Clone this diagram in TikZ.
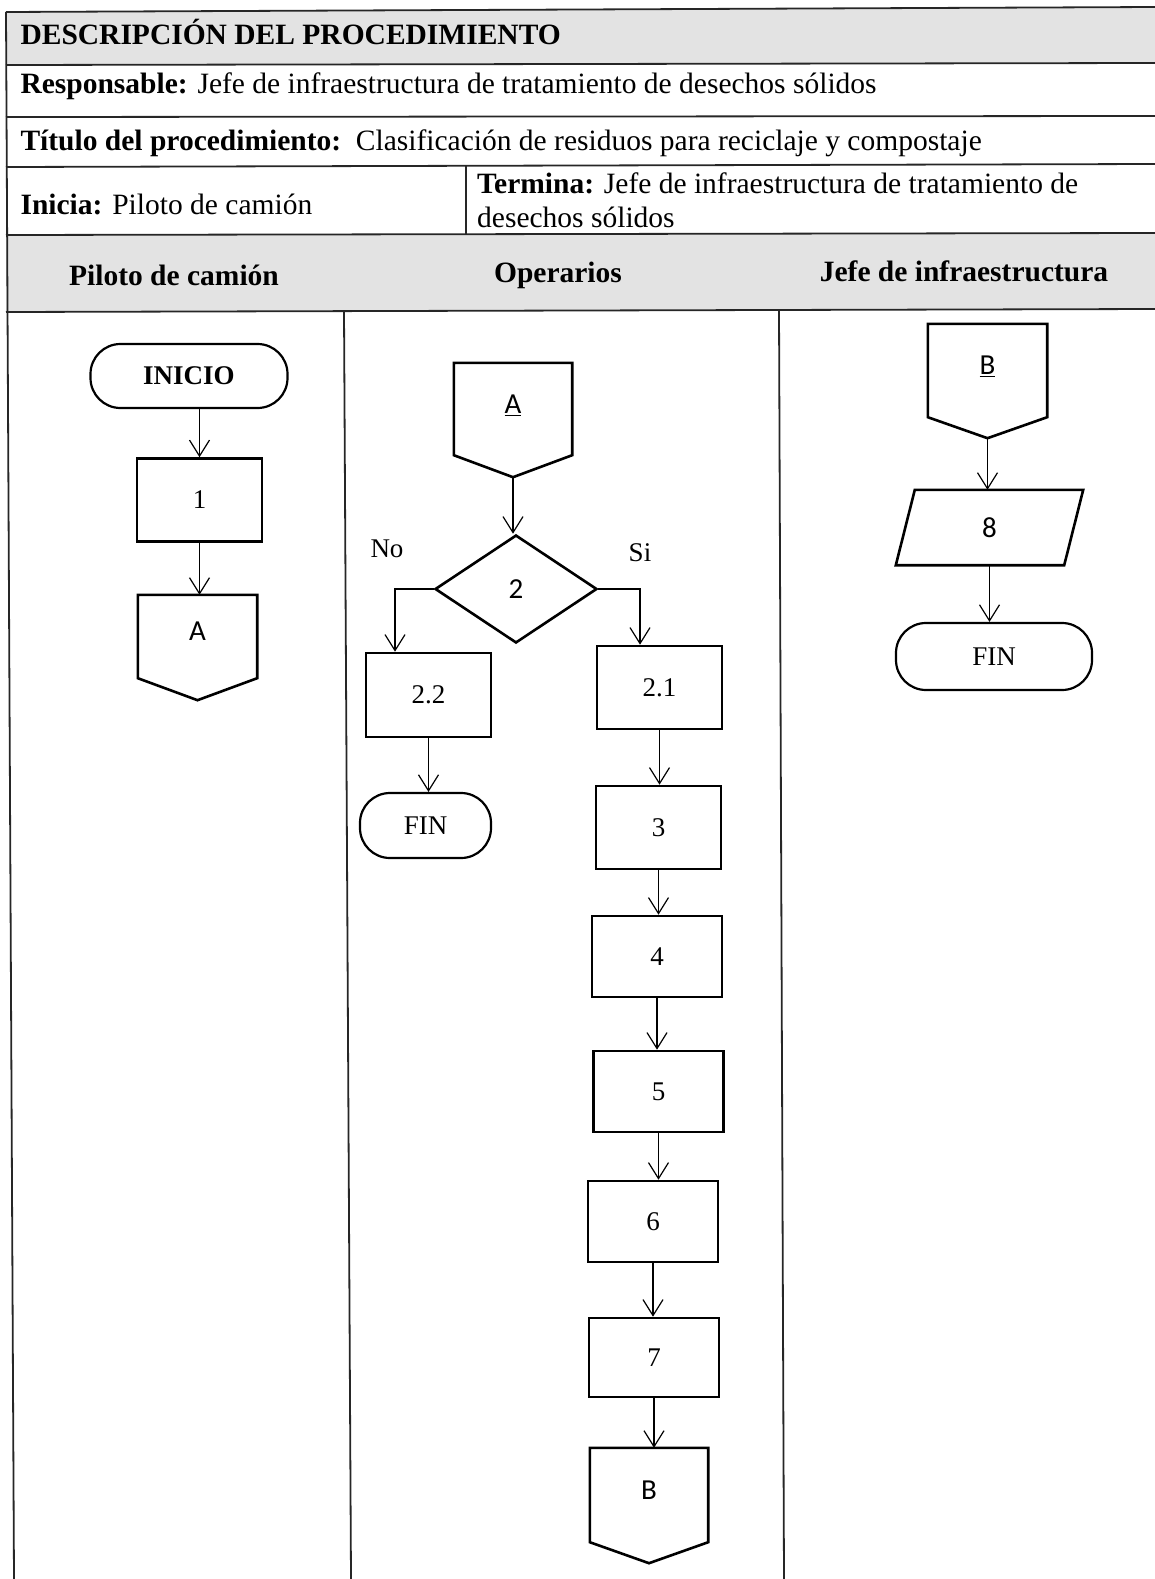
\documentclass[tikz,border=0pt]{standalone}
\usepackage{fontspec}
\setmainfont{Liberation Serif}
\newfontfamily\calibri{Carlito}
\usetikzlibrary{arrows.meta,shapes.geometric}
\begin{document}
\begin{tikzpicture}[x=1pt,y=-1pt,
  every node/.style={font=\fontsize{27}{32}\selectfont},
  tbl/.style={font=\fontsize{29.5}{34}\selectfont},
  cal/.style={font=\calibri\fontsize{29}{32}\selectfont},
  tline/.style={line width=1.8pt, black!85},
  proc/.style={draw, line width=2.6pt, minimum width=125pt, minimum height=83pt, inner sep=0pt},
  term/.style={draw, line width=2.2pt, rounded corners=30pt, inner sep=0pt},
  conn/.style={cal, inner sep=0pt, text depth=10pt},
  shp/.style={draw, line width=2.6pt, line join=miter},
  arr/.style={line width=1.2pt, -{Straight Barb[length=16pt,width=20pt]}},
  hdrfill/.style={fill=gray!22}
]
\useasboundingbox (0,0) rectangle (1155,1579);
% shaded rows
\fill[hdrfill] (6,12) -- (1155,7) -- (1155,63) -- (6,65) -- cycle;
\fill[hdrfill] (6,235) -- (1155,233) -- (1155,309) -- (6,312) -- cycle;
% table lines
\draw[tline] (6,12) -- (1155,7);
\draw[tline] (6,65) -- (1155,63);
\draw[tline] (6,117) -- (1155,116);
\draw[tline] (6,167) -- (1155,164);
\draw[tline] (6,235) -- (1155,233);
\draw[tline] (6,312) -- (1155,309);
\draw[tline] (6,12) -- (14,1579);
\draw[tline] (466,166) -- (466,234);
\draw[tline] (344,311) -- (351,1579);
\draw[tline] (779,310) -- (784,1579);
% table texts
\node[tbl, anchor=west] (title) at (17,32) {\bfseries DESCRIPCIÓN DEL PROCEDIMIENTO};
\node[tbl, anchor=west] (resp) at (17,86) {\textbf{Responsable:} Jefe de infraestructura de tratamiento de desechos sólidos};
\node[tbl, anchor=west] (tit) at (17,143) {\textbf{Título del procedimiento:}\ \ Clasificación de residuos para reciclaje y compostaje};
\node[tbl, anchor=west] (ini) at (17,204) {\textbf{Inicia:} Piloto de camión};
\node[tbl, anchor=west, align=left, inner sep=0pt] (ter) at (477,200) {\textbf{Termina:} Jefe de infraestructura de tratamiento de\\desechos sólidos};
\node[tbl] (h1) at (174,275) {\bfseries Piloto de camión};
\node[tbl] (h2) at (558,275) {\bfseries Operarios};
\node[tbl] (h3) at (964,271) {\bfseries Jefe de infraestructura};
% left lane
\node[term, minimum width=197pt, minimum height=64pt] (inicio) at (189,376) {\bfseries INICIO};
\node[proc] (p1) at (199.5,500) {1};
\node[conn, minimum width=119pt, minimum height=83pt] (cA1) at (197.5,636.5) {A};
\draw[shp] (cA1.north west) -- (cA1.north east) -- (cA1.south east) -- ([yshift=-22pt]cA1.south) -- (cA1.south west) -- cycle;
\draw[arr] (p1.north |- inicio.south) -- (p1.north);
\draw[arr] (p1.south) -- (p1.south |- cA1.north);
% middle lane
\node[conn, minimum width=118pt, minimum height=92pt] (cA2) at (513,409) {\underline{A}};
\coordinate (cA2p) at ([yshift=-22pt]cA2.south);
\draw[shp] (cA2.north west) -- (cA2.north east) -- (cA2.south east) -- (cA2p) -- (cA2.south west) -- cycle;
\node[diamond, draw, cal, line width=2.6pt, minimum width=162pt, minimum height=108pt, inner sep=0pt, aspect=1.5] (d2) at (516,589) {2};
\draw[arr] (cA2p) -- (cA2p |- d2.north);
\node (no) at (387,549) {No};
\node (si) at (640,553) {Si};
\node[proc, minimum height=84pt] (p22) at (428.5,695) {2.2};
\node[term, minimum width=131pt, minimum height=65pt] (fin1) at (425.5,825.5) {FIN};
\node[proc] (p21) at (659.5,687.5) {2.1};
\draw[arr] (d2.west) -| ([xshift=-33.5pt]p22.north);
\draw[arr] (d2.east) -| ([xshift=-19.5pt]p21.north);
\draw[arr] (p22.south) -- (p22.south |- fin1.north);
\node[proc] (p3) at (658.5,827.5) {3};
\node[proc, minimum width=130pt, minimum height=81pt] (p4) at (657,956.5) {4};
\node[proc, minimum width=130pt, minimum height=81pt] (p5) at (658.5,1091.5) {5};
\node[proc, minimum width=130pt, minimum height=81pt] (p6) at (653,1221.5) {6};
\node[proc, minimum width=130pt, minimum height=79pt] (p7) at (654,1357.5) {7};
\node[conn, minimum width=118pt, minimum height=94pt] (cB1) at (649,1495) {B};
\draw[shp] (cB1.north west) -- (cB1.north east) -- (cB1.south east) -- ([yshift=-21pt]cB1.south) -- (cB1.south west) -- cycle;
\draw[arr] (p21.south) -- (p21.south |- p3.north);
\draw[arr] (p3.south) -- (p3.south |- p4.north);
\draw[arr] (p4.south) -- (p4.south |- p5.north);
\draw[arr] (p5.south) -- (p5.south |- p6.north);
\draw[arr] (p6.south) -- (p6.south |- p7.north);
\draw[arr] (p7.south) -- (p7.south |- cB1.north);
% right lane
\node[conn, minimum width=119pt, minimum height=93pt] (cB2) at (987.5,370.5) {\underline{B}};
\coordinate (cB2p) at ([yshift=-21pt]cB2.south);
\draw[shp] (cB2.north west) -- (cB2.north east) -- (cB2.south east) -- (cB2p) -- (cB2.south west) -- cycle;
\node[cal, inner sep=0pt, minimum width=187pt, minimum height=75pt] (par8) at (989.5,527.5) {8};
\draw[shp] (par8.south west) -- ([xshift=19pt]par8.north west) -- (par8.north east) -- ([xshift=-19pt]par8.south east) -- cycle;
\node[term, minimum width=196pt, minimum height=67pt] (fin2) at (994,656.5) {FIN};
\draw[arr] (cB2p) -- (cB2p |- par8.north);
\draw[arr] (par8.south) -- (par8.south |- fin2.north);
\end{tikzpicture}
\end{document}
